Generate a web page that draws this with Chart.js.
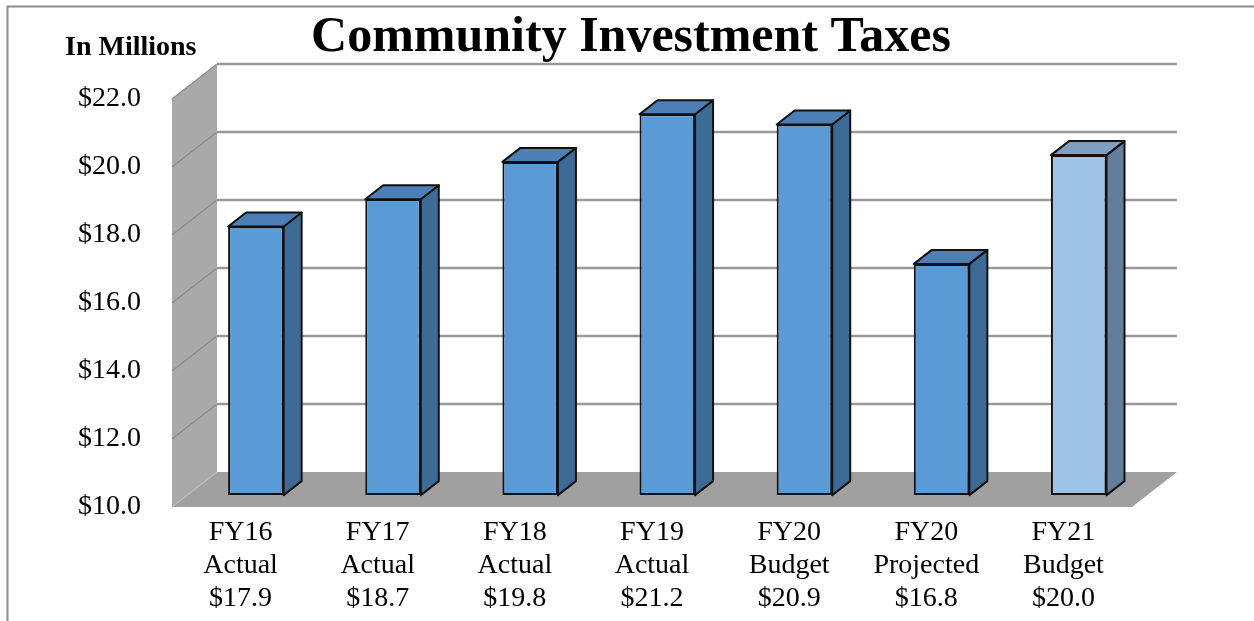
<!DOCTYPE html>
<html>
<head>
<meta charset="utf-8">
<title>Community Investment Taxes</title>
<script src="https://cdn.jsdelivr.net/npm/chart.js@4.4.0/dist/chart.umd.min.js"></script>
<style>
  body { margin: 0; background: #fff; }
  canvas { display: block; }
</style>
</head>
<body>
<canvas id="taxChart" width="1254" height="621"></canvas>
<script>
// CHART DATA (in millions)
const fiscalYears = ["FY16", "FY17", "FY18", "FY19", "FY20", "FY20", "FY21"];
const stages = ["Actual", "Actual", "Actual", "Actual", "Budget", "Projected", "Budget"];
const amounts = [17.9, 18.7, 19.8, 21.2, 20.9, 16.8, 20.0];
const yTicks = [10, 12, 14, 16, 18, 20, 22];

const SERIF = "'Liberation Serif', 'Times New Roman', serif";

// 3d box: how far the back wall sits from the front plane,
// where the bars start inside that depth and how deep they are
const DEPTH_X = 45, DEPTH_Y = -35;
const BAR_FRONT = 0.34, BAR_DEPTH = 0.4;

const BLUE = { front: "#5b9bd5", side: "#3e6b96", top: "#4b7fb6" };
const LIGHT = { front: "#9dc3e6", side: "#627e9a", top: "#7f9fc2" };
const barColors = i => (i === amounts.length - 1 ? LIGHT : BLUE);

function poly(ctx, pts) {
  ctx.beginPath();
  ctx.moveTo(pts[0][0], pts[0][1]);
  for (let k = 1; k < pts.length; k++) ctx.lineTo(pts[k][0], pts[k][1]);
  ctx.closePath();
}

function line(ctx, x1, y1, x2, y2) {
  ctx.beginPath();
  ctx.moveTo(x1, y1);
  ctx.lineTo(x2, y2);
  ctx.stroke();
}

// WALLS, FLOOR, BAR SIDES AND TOPS
const box3d = {
  id: "box3d",
  beforeDatasetsDraw(chart) {
    const { ctx, chartArea: a, scales: { y } } = chart;
    const bL = a.left + DEPTH_X, bR = a.right + DEPTH_X;

    ctx.save();
    // side wall
    ctx.fillStyle = "#a9a9a9";
    poly(ctx, [[a.left, a.top], [bL, a.top + DEPTH_Y], [bL, a.bottom + DEPTH_Y], [a.left, a.bottom]]);
    ctx.fill();

    // floor
    ctx.fillStyle = "#a0a0a0";
    poly(ctx, [[a.left, a.bottom], [a.right, a.bottom], [bR, a.bottom + DEPTH_Y], [bL, a.bottom + DEPTH_Y]]);
    ctx.fill();

    // grid lines on side wall and back wall
    y.ticks.forEach(t => {
      const py = y.getPixelForValue(t.value);
      if (t.value === y.min) {
        ctx.strokeStyle = "#b9b9b9";
        ctx.lineWidth = 1.5;
        line(ctx, a.left, py, bL, py + DEPTH_Y);
        return;
      }
      ctx.strokeStyle = "#8e8e8e";
      ctx.lineWidth = 1.5;
      line(ctx, a.left, py, bL, py + DEPTH_Y);
      ctx.strokeStyle = "#999999";
      ctx.lineWidth = 2.5;
      line(ctx, bL, py + DEPTH_Y, bR, py + DEPTH_Y);
    });

    // bar sides and tops
    const fx = DEPTH_X * BAR_FRONT, fy = DEPTH_Y * BAR_FRONT;
    const bx = DEPTH_X * BAR_DEPTH, by = DEPTH_Y * BAR_DEPTH;
    ctx.strokeStyle = "#111";
    ctx.lineWidth = 2;
    ctx.lineJoin = "round";
    chart.getDatasetMeta(0).data.forEach((bar, i) => {
      const p = bar.getProps(["x", "y", "base", "width"], true);
      const l = p.x - p.width / 2 + fx, r = p.x + p.width / 2 + fx;
      const t = p.y + fy, b = p.base + fy;
      const c = barColors(i);

      ctx.fillStyle = c.side;
      poly(ctx, [[r, t], [r + bx, t + by], [r + bx, b + by], [r, b]]);
      ctx.fill();
      ctx.stroke();

      ctx.fillStyle = c.top;
      poly(ctx, [[l, t], [l + bx, t + by], [r + bx, t + by], [r, t]]);
      ctx.fill();
      ctx.stroke();
    });
    ctx.restore();

    // front faces are drawn by chart.js, pushed into the box
    ctx.save();
    ctx.translate(fx, fy);
  },
  afterDatasetsDraw(chart) {
    chart.ctx.restore();
  },
  afterDraw(chart) {
    const ctx = chart.ctx;
    ctx.save();
    // frame
    ctx.strokeStyle = "#8a8a8a";
    ctx.lineWidth = 2;
    ctx.beginPath();
    ctx.moveTo(7.5, chart.height);
    ctx.lineTo(7.5, 6.5);
    ctx.lineTo(chart.width, 6.5);
    ctx.stroke();

    ctx.fillStyle = "#000";
    ctx.textBaseline = "alphabetic";
    ctx.font = "bold 50px " + SERIF;
    ctx.textAlign = "center";
    ctx.fillText("Community Investment Taxes", 631, 51);

    ctx.font = "bold 28px " + SERIF;
    ctx.textAlign = "left";
    ctx.fillText("In Millions", 65, 55);
    ctx.restore();
  }
};

const labels = fiscalYears.map((fy, i) => [fy, stages[i], "$" + amounts[i].toFixed(1)]);

new Chart(document.getElementById("taxChart"), {
  type: "bar",
  data: {
    labels: labels,
    datasets: [{
      label: "Community Investment Taxes",
      data: amounts,
      base: yTicks[0],
      backgroundColor: ctx => barColors(ctx.dataIndex).front,
      borderColor: "#111",
      borderWidth: 2,
      borderSkipped: false,
      categoryPercentage: 1,
      barPercentage: 0.405
    }]
  },
  options: {
    responsive: false,
    animation: false,
    layout: { padding: { top: 99, right: 122, left: 0, bottom: 0 } },
    plugins: {
      legend: { display: false },
      tooltip: { enabled: false }
    },
    scales: {
      x: {
        grid: { display: false, drawTicks: false },
        border: { display: false },
        ticks: {
          color: "#000",
          padding: 9,
          maxRotation: 0,
          autoSkip: false,
          font: { family: SERIF, size: 28, lineHeight: 1.18 }
        },
        afterFit(scale) { scale.height = 114; }
      },
      y: {
        min: 10,
        max: 22,
        grid: { display: false, drawTicks: false },
        border: { display: false },
        afterBuildTicks(scale) { scale.ticks = yTicks.map(v => ({ value: v })); },
        ticks: {
          color: "#000",
          padding: 31,
          font: { family: SERIF, size: 28 },
          callback: v => "$" + v.toFixed(1)
        },
        afterFit(scale) { scale.width = 172; }
      }
    }
  },
  plugins: [box3d]
});
</script>
</body>
</html>
